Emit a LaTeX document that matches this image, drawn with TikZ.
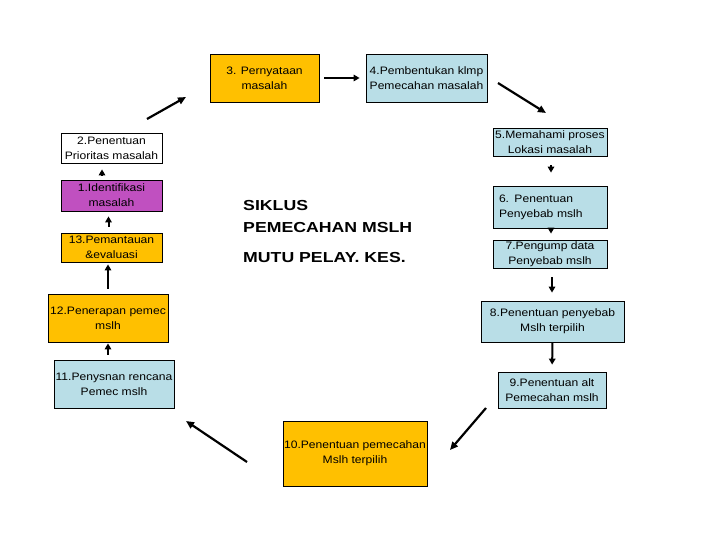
\documentclass[tikz,border=0pt]{standalone}
\usepackage{fontspec}
\setmainfont{Liberation Sans}
\newfontfamily\boxfont{Liberation Sans}[FakeStretch=1.12]
\newfontfamily\titlefont{Liberation Sans}[FakeStretch=1.22]
\usetikzlibrary{arrows.meta}
\definecolor{orangefill}{RGB}{255,192,0}
\definecolor{bluefill}{RGB}{185,222,231}
\definecolor{magentafill}{RGB}{192,80,192}
\begin{document}
\begin{tikzpicture}[x=1pt,y=-1pt,
  box/.style={draw=black, line width=0.8pt, inner sep=0pt, align=center,
    font=\boxfont\fontsize{10.8}{15}\selectfont},
  obox/.style={box, fill=orangefill},
  bbox/.style={box, fill=bluefill},
  shortarrow/.style={line width=2pt, -{Triangle[length=6pt,width=6.5pt]}},
  longarrow/.style={line width=2.2pt, -{Triangle[length=8pt,width=7pt]}},
  title/.style={anchor=base west, inner sep=0pt,
    font=\titlefont\bfseries\fontsize{14.5}{18}\selectfont}]
\useasboundingbox (0,0) rectangle (720,540);
\fill[white] (0,0) rectangle (720,540);

% top
\node[obox, minimum width=109pt, minimum height=48pt] (b3) at (264.5,78) {3. Pernyataan\\masalah};
\node[bbox, minimum width=121pt, minimum height=48pt] (b4) at (426.5,78) {4.Pembentukan klmp\\Pemecahan masalah};

% left column
\node[box, fill=white, minimum width=101pt, minimum height=30pt] (b2) at (111.5,148) {2.Penentuan\\Prioritas masalah};
\node[box, fill=magentafill, minimum width=101pt, minimum height=31pt] (b1) at (111.5,195.5) {1.Identifikasi\\masalah};
\node[obox, minimum width=101pt, minimum height=29pt] (b13) at (111.5,247.5) {13.Pemantauan\\\&evaluasi};
\node[obox, minimum width=120pt, minimum height=48pt] (b12) at (108,318) {12.Penerapan pemec\\mslh};
\node[bbox, minimum width=120pt, minimum height=48pt] (b11) at (114,384) {11.Penysnan rencana\\Pemec mslh};

% right column
\node[bbox, minimum width=114pt, minimum height=28pt] (b5) at (550,142) {5.Memahami proses\\Lokasi masalah};
\node[bbox, minimum width=114pt, minimum height=42pt, text width=102pt, inner xsep=6pt, align=left] (b6) at (550,207) {6. Penentuan\\Penyebab mslh};
\node[bbox, minimum width=114pt, minimum height=28pt] (b7) at (550,254) {7.Pengump data\\Penyebab mslh};
\node[bbox, minimum width=143pt, minimum height=41pt] (b8) at (552.5,321.5) {8.Penentuan penyebab\\Mslh terpilih};
\node[bbox, minimum width=108pt, minimum height=36pt] (b9) at (552,390) {9.Penentuan alt\\Pemecahan mslh};

% bottom
\node[obox, minimum width=144pt, minimum height=65pt] (b10) at (355,453.5) {10.Penentuan pemecahan\\Mslh terpilih};

% centre text
\node[title] (t1) at (243,211) {SIKLUS};
\node[title] (t2) at (243,233) {PEMECAHAN MSLH};
\node[title] (t3) at (243,262) {MUTU PELAY. KES.};

% short arrows
\draw[shortarrow, shorten <=5pt, shorten >=6pt] (b3.east) -- (b4.west);
\draw[shortarrow, shorten <=5pt, shorten >=6pt] ([xshift=-9.5pt]b1.north) -- ([xshift=-9.5pt]b2.south);
\draw[shortarrow, shorten <=6pt, shorten >=5pt] ([xshift=-3pt]b13.north) -- ([xshift=-3pt]b1.south);
\draw[shortarrow, shorten <=5pt, shorten >=2pt] (b12.north) -- ([xshift=-3.5pt]b13.south);
\draw[shortarrow, shorten <=5pt, shorten >=1pt] ([xshift=-6pt]b11.north) -- (b12.south);
\draw[shortarrow, shorten <=9pt, shorten >=13pt] ([xshift=1pt]b5.south) -- ([xshift=1pt]b6.north);
\draw[shortarrow, shorten <=0pt, shorten >=6pt] ([xshift=1pt]b6.south) -- ([xshift=1pt]b7.north);
\draw[shortarrow, shorten <=9pt, shorten >=8pt] ([xshift=2pt]b7.south) -- ([xshift=-0.5pt]b8.north);
\draw[shortarrow, shorten >=7pt] (b8.south) -- (b9.north);

% diagonal arrows
\coordinate (d1s) at (147,119);
\coordinate (d1e) at (186,97);
\coordinate (d2s) at (498,83);
\coordinate (d2e) at (546,113);
\coordinate (d3s) at (486,408);
\coordinate (d3e) at (450,450);
\coordinate (d4s) at (247,462);
\coordinate (d4e) at (186,421);
\draw[longarrow] (d1s) -- (d1e);
\draw[longarrow] (d2s) -- (d2e);
\draw[longarrow] (d3s) -- (d3e);
\draw[longarrow] (d4s) -- (d4e);
\end{tikzpicture}
\end{document}
